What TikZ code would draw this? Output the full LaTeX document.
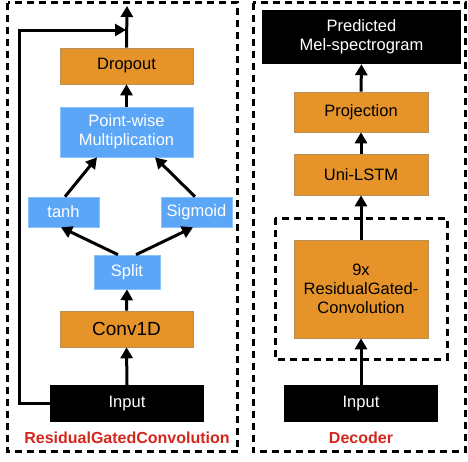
\documentclass[tikz,border=0pt]{standalone}
\usepackage{fontspec}
\setmainfont{Liberation Sans}
\usetikzlibrary{arrows.meta}
\definecolor{orng}{HTML}{E6932A}
\definecolor{orngedge}{HTML}{B8905A}
\definecolor{blu}{HTML}{5CA6F8}
\definecolor{bluedge}{HTML}{8CC2FA}
\definecolor{lblred}{HTML}{D3271D}
\tikzset{
  box/.style={inner sep=0pt, align=center, font=\fontsize{16.5}{19}\selectfont},
  obox/.style={box, fill=orng, draw=orngedge, line width=0.6pt, text=black},
  bbox/.style={box, fill=blu, draw=bluedge, line width=0.6pt, text=white},
  kbox/.style={box, fill=black, text=white},
  caption/.style={font=\fontsize{16}{19}\selectfont\bfseries, text=lblred},
  frame/.style={line width=3pt, dash pattern=on 7pt off 5pt},
  flow/.style={line width=3pt, -{Triangle[length=11pt,width=12pt]}},
}
\begin{document}
\begin{tikzpicture}[x=1pt,y=-1pt]
\useasboundingbox (0,0) rectangle (468,461);

% outer frames
\draw[frame] (7.5,2.5) rectangle (237.5,451.5);
\draw[frame] (253,2.5) rectangle (465.5,451.5);
\draw[frame] (275,218) rectangle (447,359);

% residual gated convolution block
\node[obox, minimum width=133pt, minimum height=36pt] (drop) at (126.5,66) {Dropout};
\node[bbox, minimum width=133pt, minimum height=50pt] (pw) at (126.5,132) {Point-wise\\Multiplication};
\node[bbox, minimum width=71pt, minimum height=30pt] (tanh) at (63.5,212) {tanh};
\node[bbox, minimum width=71pt, minimum height=30pt] (sig) at (196.5,212) {Sigmoid};
\node[bbox, minimum width=66pt, minimum height=34pt] (split) at (127,272) {Split};
\node[obox, minimum width=133pt, minimum height=36pt, font=\fontsize{19}{22}\selectfont] (conv) at (126.5,329) {Conv1D};
\node[kbox, minimum width=154pt, minimum height=37pt] (inL) at (127,403.5) {Input};
\node[caption] (capL) at (127,438) {ResidualGatedConvolution};

\coordinate (outL) at (127,6);
\coordinate (skipA) at (19,403.5);
\coordinate (skipB) at (19,30);
\coordinate (skipC) at (126,30);

\draw[flow] (inL.north) -- (conv.south);
\draw[flow] (conv.north) -- (split.south);
\draw[flow] ([xshift=-9pt]split.north) -- ([xshift=-2.5pt]tanh.south);
\draw[flow] ([xshift=9pt]split.north) -- ([xshift=-3.5pt]sig.south);
\draw[flow] ([xshift=1.5pt]tanh.north) -- ([xshift=-29.5pt]pw.south);
\draw[flow] ([xshift=-1.5pt]sig.north) -- ([xshift=28.5pt]pw.south);
\draw[flow] (pw.north) -- (drop.south);
\draw[flow] (drop.north) -- (outL);
\draw[flow, rounded corners=0pt] (inL.west) -- (skipA) -- (skipB) -- (skipC);

% decoder block
\node[kbox, minimum width=199pt, minimum height=54pt] (pred) at (361.5,37) {Predicted\\Mel-spectrogram};
\node[obox, minimum width=134pt, minimum height=40pt] (proj) at (361,112) {Projection};
\node[obox, minimum width=134pt, minimum height=41pt] (lstm) at (361,174.5) {Uni-LSTM};
\node[obox, minimum width=134pt, minimum height=98pt] (rgc) at (361,289) {9x\\ResidualGated-\\Convolution};
\node[kbox, minimum width=154pt, minimum height=37pt] (inR) at (361,403.5) {Input};
\node[caption] (capR) at (361,438) {Decoder};

\draw[flow] (inR.north) -- (rgc.south);
\draw[flow] (rgc.north) -- (lstm.south);
\draw[flow] (lstm.north) -- (proj.south);
\draw[flow] (proj.north) -- (pred.south);
\end{tikzpicture}
\end{document}
